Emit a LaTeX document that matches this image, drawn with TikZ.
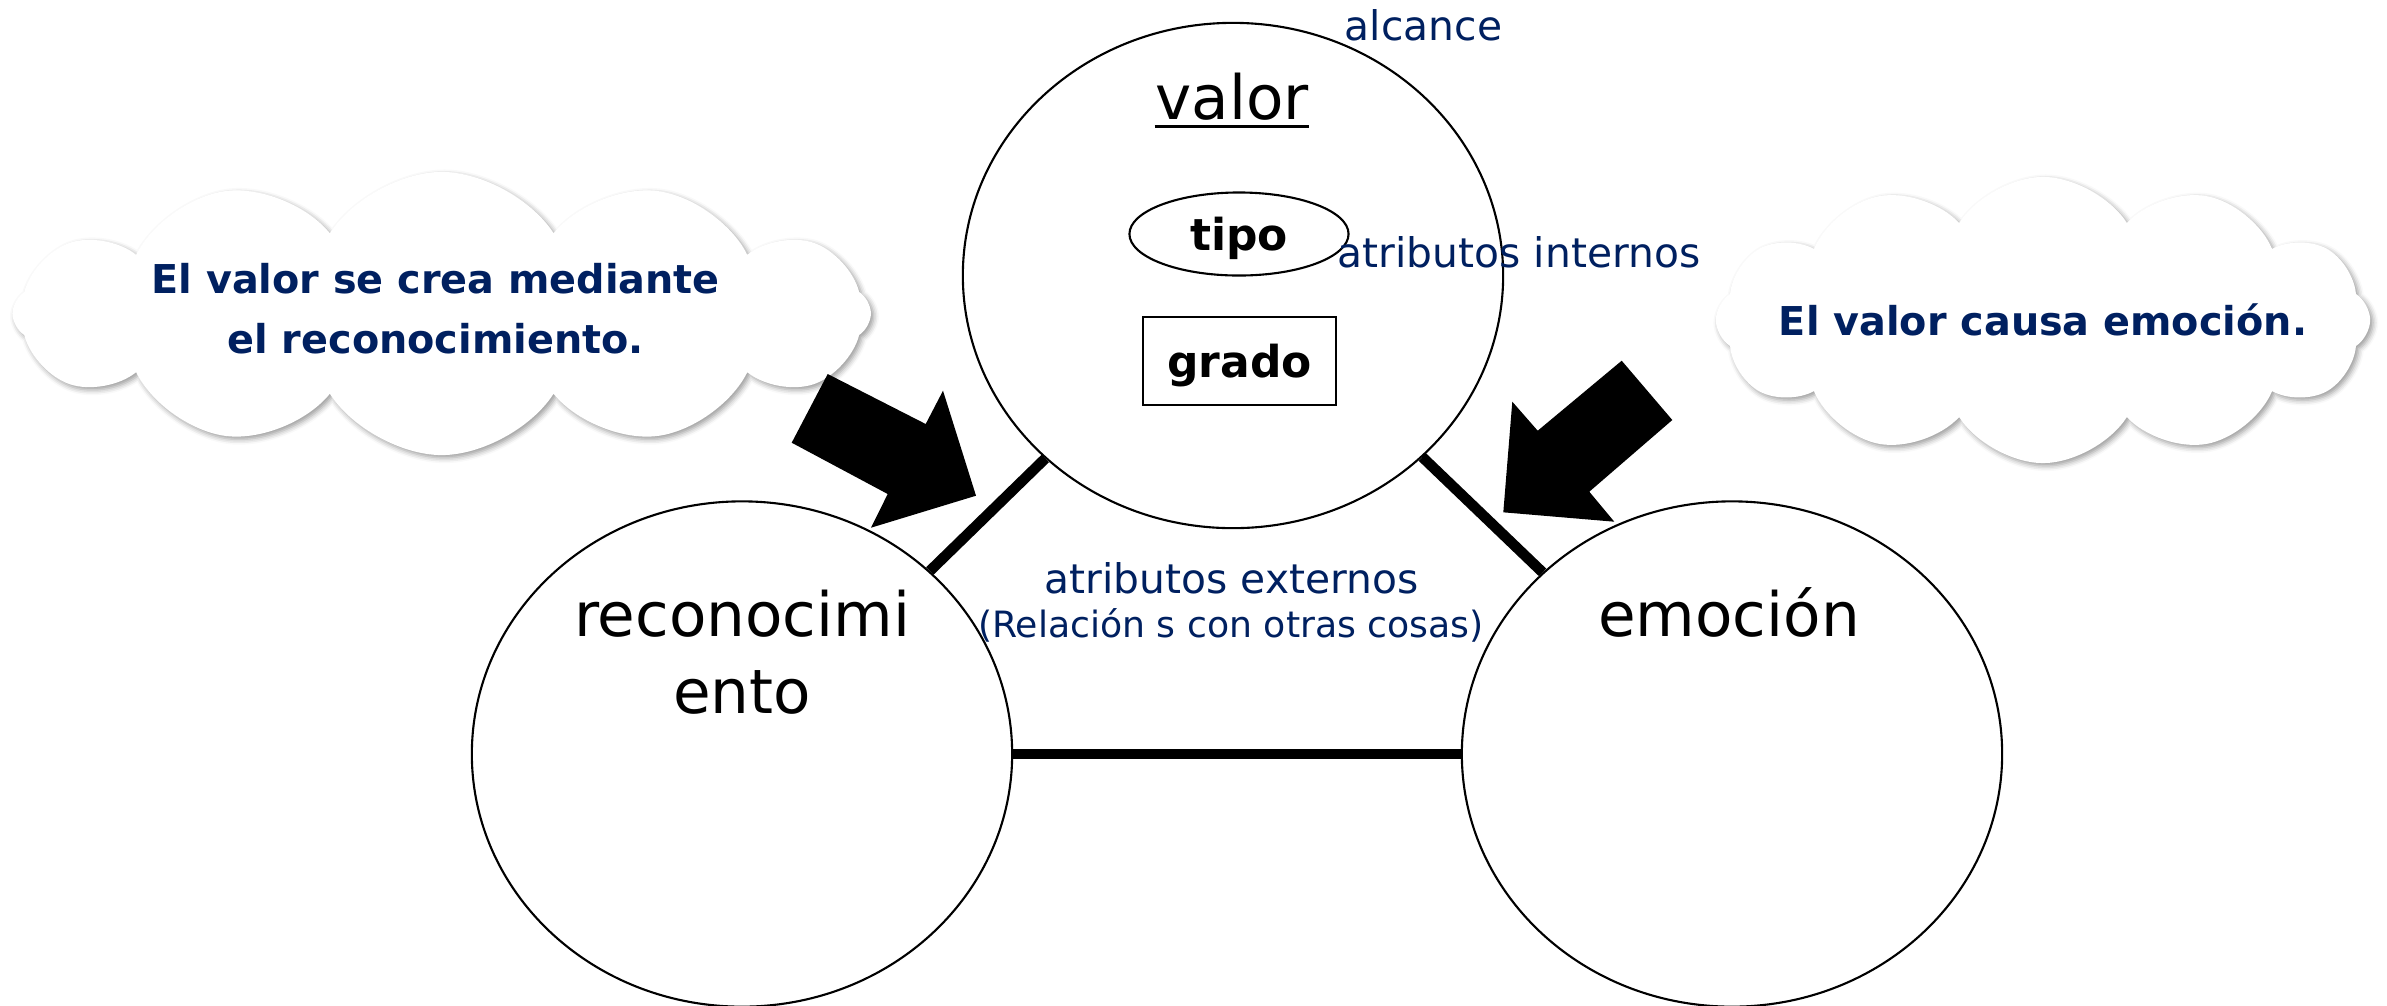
\documentclass[tikz,border=0pt]{standalone}
\usepackage{fontspec}
\setmainfont{DejaVu Sans}
\usepackage{xcolor}
\usetikzlibrary{positioning,arrows.meta,shapes.geometric,shapes.symbols,shadows.blur}
\definecolor{navyblue}{RGB}{0,32,96}

\begin{document}
\begin{tikzpicture}[x=0.01cm, y=-0.01cm,
	bubble/.style={ellipse, draw, line width=0.6pt, minimum width=5.4cm, minimum height=5.05cm},
	bar/.style={line width=1.05mm},
	bigtxt/.style={font=\fontsize{17.4}{21.8}\selectfont, align=center, anchor=base, inner sep=0pt},
	navytxt/.style={text=navyblue, font=\fontsize{11.6}{14}\selectfont, anchor=base, inner sep=0pt},
	smalltxt/.style={text=navyblue, font=\fontsize{10.3}{12.4}\selectfont, anchor=base, inner sep=0pt},
	attr/.style={draw, line width=0.6pt, inner sep=0pt, text depth=0pt, font=\bfseries\fontsize{12.5}{15}\selectfont},
	thought/.style={cloud, cloud puffs=12, cloud puff arc=115, cloud ignores aspect, inner sep=0pt, fill=white, blur shadow={shadow xshift=0.8pt, shadow yshift=-0.8pt, shadow blur radius=1.5pt}},
	thoughttxt/.style={text=navyblue, align=center, font=\bfseries\fontsize{11.3}{17.1}\selectfont}]
	\useasboundingbox (0,0) rectangle (2387,1005);

	% the three circles
	\node[bubble] (valor) at (1233,275.5) {};
	\node[bubble] (recon) at (742,754) {};
	\node[bubble] (emo) at (1732,754) {};
	\draw[bar] (recon) -- (valor);
	\draw[bar] (valor) -- (emo);
	\draw[bar] (recon) -- (emo);

	\node[bigtxt] (valorT) at (1232,119.3) {valor};
	\draw[line width=0.8pt] ([yshift=-2.1pt]valorT.base west) -- ([yshift=-2.1pt]valorT.base east);
	\node[bigtxt] (reconT) at (742,713.3) {reconocimi\\ento};
	\node[bigtxt] (emoT) at (1729,636.7) {emoción};

	\node[attr, ellipse, minimum width=2.19cm, minimum height=0.83cm] (tipo) at (1239,234) {tipo};
	\node[attr, minimum width=1.93cm, minimum height=0.88cm] (grado) at (1239.5,361) {grado};

	\node[navytxt] (alc) at (1423.5,40.7) {alcance};
	\node[navytxt] (intern) at (1519,267.7) {atributos internos};
	\node[navytxt] (extern) at (1231.5,593.3) {atributos externos};
	\node[smalltxt] (rel) at (1231,637.7) {(Relación s con otras cosas)};

	% clouds and block arrows
	\node[thought, minimum width=8.58cm, minimum height=2.83cm] (cloudL) at (441.7,313.5) {};
	\node[thoughttxt] (cloudLT) at ([xshift=-0.06cm, yshift=0.05cm]cloudL.center) {El valor se crea mediante\\el reconocimiento.};
	\node[thought, minimum width=6.54cm, minimum height=2.86cm] (cloudR) at (2043,320) {};
	\node[thoughttxt] (cloudRT) at (cloudR.center) {El valor causa emoción.};

	\fill (827.7,374) -- (925.7,424) -- (943,390.7) -- (976,495.7) -- (871,527.7) -- (887.7,494) -- (791.7,442.7) -- cycle;
	\fill (1621.7,360.7) -- (1672.3,420) -- (1589.3,491.7) -- (1614.3,521.7) -- (1503.3,512.3) -- (1512.3,401.7) -- (1537.7,430.7) -- cycle;
\end{tikzpicture}
\end{document}
